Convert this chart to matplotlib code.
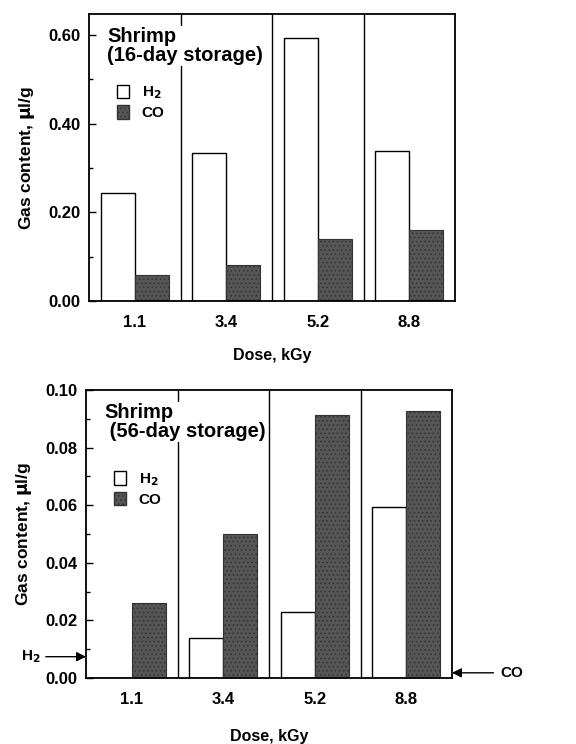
import matplotlib
matplotlib.use("Agg")
import matplotlib.pyplot as plt
import numpy as np
from matplotlib.patches import Patch
from matplotlib.ticker import FormatStrFormatter, MultipleLocator

plt.rcParams["font.family"] = ["Liberation Sans", "DejaVu Sans"]
plt.rcParams["font.weight"] = "bold"
plt.rcParams["axes.labelweight"] = "bold"
plt.rcParams["mathtext.default"] = "bf"
plt.rcParams["hatch.color"] = "#2b2b2b"
plt.rcParams["hatch.linewidth"] = 0.6

doses = ["1.1", "3.4", "5.2", "8.8"]

# 16-day storage
h2_16 = [0.244, 0.333, 0.593, 0.339]
co_16 = [0.059, 0.081, 0.139, 0.159]

# 56-day storage
h2_56 = [0.0, 0.0138, 0.023, 0.0595]
co_56 = [0.0259, 0.050, 0.0912, 0.0927]

# arrow markers on bottom panel
h2_marker = 0.0074
co_marker = 0.0018

CO_FACE = "#555555"

fig = plt.figure(figsize=(5.76, 7.44), dpi=100)
ax1 = fig.add_axes([89 / 576, 1 - 301 / 744, 366 / 576, 287 / 744])
ax2 = fig.add_axes([86 / 576, 1 - 678 / 744, 366 / 576, 288 / 744])

x = np.arange(len(doses))
w = 0.37


def draw_panel(ax, h2, co, ymax, major, minor, title, legend_y, xlabelpad):
    ax.bar(x - w / 2, h2, w, color="white", edgecolor="black", linewidth=1.0, zorder=2)
    ax.bar(x + w / 2, co, w, color=CO_FACE, edgecolor="#333333", linewidth=0.8,
           hatch="....", zorder=2)
    for d in [0.5, 1.5, 2.5]:
        ax.axvline(d, color="black", linewidth=1.0, zorder=1)
    ax.set_xlim(-0.5, 3.5)
    ax.set_ylim(0, ymax)
    ax.set_xticks(x)
    ax.set_xticklabels(doses)
    ax.tick_params(axis="x", length=0, pad=10, labelsize=12)
    ax.yaxis.set_major_locator(MultipleLocator(major))
    ax.yaxis.set_minor_locator(MultipleLocator(minor))
    ax.yaxis.set_major_formatter(FormatStrFormatter("%.2f"))
    ax.tick_params(axis="y", which="major", direction="in", length=5, width=1,
                   labelsize=12, pad=6)
    ax.tick_params(axis="y", which="minor", direction="in", length=3, width=1)
    for s in ax.spines.values():
        s.set_linewidth(1.3)
    ax.set_xlabel("Dose, kGy", fontsize=11.5, labelpad=xlabelpad)
    ax.set_ylabel("Gas content, $\\mu$l/g", fontsize=12.5, labelpad=8)
    ax.text(0.05, 0.955, title, transform=ax.transAxes, fontsize=14.5,
            fontweight="bold", va="top", ha="left", linespacing=1.0, zorder=5,
            bbox=dict(facecolor="white", edgecolor="none", pad=1))
    handles = [Patch(facecolor="white", edgecolor="black", label="H$_2$"),
               Patch(facecolor=CO_FACE, edgecolor="#333333", hatch="....", label="CO")]
    ax.legend(handles=handles, loc="upper left", bbox_to_anchor=(0.06, legend_y),
              frameon=False, fontsize=11, handlelength=0.8, handleheight=1.0,
              handletextpad=0.8, labelspacing=0.25, borderaxespad=0)


draw_panel(ax1, h2_16, co_16, 0.647, 0.2, 0.1,
           "Shrimp\n(16-day storage)", 0.775, 13)
draw_panel(ax2, h2_56, co_56, 0.10, 0.02, 0.01,
           "Shrimp\n (56-day storage)", 0.74, 16)

# arrows pointing at the detection limits
ax2.annotate("H$_2$", xy=(-0.5, h2_marker), xycoords="data",
             xytext=(-1.0, h2_marker), textcoords="data",
             ha="right", va="center", fontsize=11, annotation_clip=False,
             arrowprops=dict(arrowstyle="-|>", color="black", lw=1.0,
                             mutation_scale=14, shrinkA=2, shrinkB=0))
ax2.annotate("CO", xy=(3.5, co_marker), xycoords="data",
             xytext=(4.03, co_marker), textcoords="data",
             ha="left", va="center", fontsize=11, annotation_clip=False,
             arrowprops=dict(arrowstyle="-|>", color="black", lw=1.0,
                             mutation_scale=14, shrinkA=3, shrinkB=0))

fig.savefig("out.png", dpi=100)
